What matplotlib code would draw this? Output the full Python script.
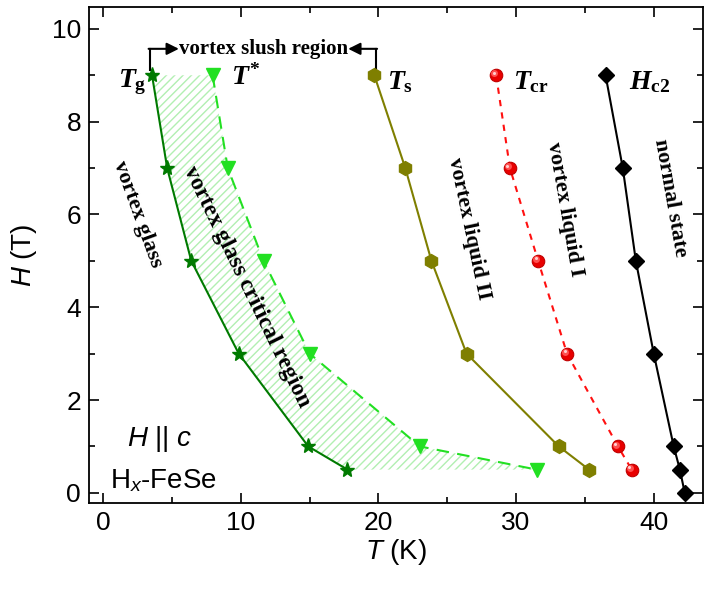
import matplotlib
matplotlib.use('Agg')
import matplotlib.pyplot as plt
from matplotlib.ticker import MultipleLocator
from matplotlib.transforms import offset_copy

# field values (T)
H = [9, 7, 5, 3, 1, 0.5]
H_c2 = [9, 7, 5, 3, 1, 0.5, 0]

# temperatures (K)
T_g = [3.55, 4.65, 6.4, 9.85, 14.9, 17.75]
T_star = [7.95, 9.05, 11.65, 15.0, 23.0, 31.5]
T_s = [19.7, 21.95, 23.85, 26.4, 33.1, 35.3]
T_cr = [28.55, 29.55, 31.6, 33.7, 37.4, 38.4]
T_hc2 = [36.5, 37.75, 38.7, 40.0, 41.45, 41.9, 42.25]

plt.rcParams['mathtext.fontset'] = 'custom'
plt.rcParams['mathtext.rm'] = 'Liberation Serif:bold'
plt.rcParams['mathtext.bf'] = 'Liberation Serif:bold'
plt.rcParams['mathtext.it'] = 'Liberation Serif:bold:italic'
plt.rcParams['mathtext.tt'] = 'Liberation Sans:italic'
plt.rcParams['mathtext.sf'] = 'Liberation Sans'
plt.rcParams['font.family'] = 'Liberation Sans'
plt.rcParams['hatch.linewidth'] = 1.0

fig = plt.figure(figsize=(7.04, 5.89), dpi=100)
ax = fig.add_axes([0.127, 0.146, 0.872, 0.842])

# hatched critical region
ax.fill_betweenx(H, T_g, T_star, facecolor='none', hatch='////',
                 edgecolor='#b2efb2', linewidth=0)

ax.plot(T_g, H, '-', color='#007a00', lw=1.5, marker='*', ms=11, zorder=3)
ax.plot(T_star, H, '--', color='#22e022', lw=1.5, dashes=(6, 4),
        marker='v', ms=10, zorder=3)
ax.plot(T_s, H, '-', color='#7f7f00', lw=1.5, marker='h', ms=10, zorder=3)
ax.plot(T_cr, H, '--', color='#ff1010', lw=1.5, dashes=(3, 3),
        marker='o', ms=9, mfc='#e80000', mec='#c00000', mew=0.8, zorder=3)
# sphere highlight
hl = offset_copy(ax.transData, fig=fig, x=-1.3, y=1.3, units='points')
ax.plot(T_cr, H, 'o', ms=5, mfc='#ff5050', mec='none', transform=hl, zorder=4)
hl2 = offset_copy(ax.transData, fig=fig, x=-1.8, y=1.8, units='points')
ax.plot(T_cr, H, 'o', ms=2.2, mfc='#ffd0d0', mec='none', transform=hl2, zorder=4)
ax.plot(T_hc2, H_c2, '-', color='black', lw=1.5, marker='D', ms=8, zorder=3)

ax.set_xlim(-1, 43.6)
ax.set_ylim(-0.22, 10.47)
ax.xaxis.set_major_locator(MultipleLocator(10))
ax.xaxis.set_minor_locator(MultipleLocator(5))
ax.yaxis.set_major_locator(MultipleLocator(2))
ax.yaxis.set_minor_locator(MultipleLocator(1))
ax.tick_params(which='both', direction='in', top=True, right=True,
               labelsize=19, width=1.2)
ax.tick_params(which='major', length=7, pad=6)
ax.tick_params(which='minor', length=4)
for s in ax.spines.values():
    s.set_linewidth(1.3)

ax.set_xlabel(r'$\mathtt{T}$ (K)', fontsize=20, labelpad=1)
ax.set_ylabel(r'$\mathtt{H}$ (T)', fontsize=20, labelpad=9)

# curve labels
lab = dict(fontsize=20, ha='center', va='center')
ax.text(2.1, 8.85, r'$T_{\rm g}$', **lab)
ax.text(10.4, 8.95, r'$T^{*}$', **lab)
ax.text(21.6, 8.85, r'$T_{\rm s}$', **lab)
ax.text(31.1, 8.85, r'$T_{\rm cr}$', **lab)
ax.text(39.7, 8.85, r'$H_{\rm c2}$', **lab)

# region labels
reg = dict(family='Liberation Serif', weight='bold', fontsize=16,
           ha='center', va='center')
ax.text(2.5, 6.0, 'vortex glass', rotation=-70, **reg)
ax.text(10.4, 4.45, 'vortex glass critical region', rotation=-64,
        **dict(reg, fontsize=17))
ax.text(26.6, 5.7, 'vortex liquid II', rotation=-78, **reg)
ax.text(33.55, 6.1, 'vortex liquid I', rotation=-80, **reg)
ax.text(41.2, 6.35, 'normal state', rotation=-80, **reg)

# vortex slush bracket
ax.plot([3.4, 3.4], [9.12, 9.57], color='black', lw=1.5)
ax.plot([19.8, 19.8], [9.12, 9.57], color='black', lw=1.5)
ax.annotate('', xy=(5.5, 9.57), xytext=(3.3, 9.57),
            arrowprops=dict(arrowstyle='-|>', color='black', lw=1.5,
                            mutation_scale=18, shrinkA=0, shrinkB=0))
ax.annotate('', xy=(17.8, 9.57), xytext=(19.9, 9.57),
            arrowprops=dict(arrowstyle='-|>', color='black', lw=1.5,
                            mutation_scale=18, shrinkA=0, shrinkB=0))
ax.text(11.65, 9.57, 'vortex slush region', family='Liberation Serif',
        weight='bold', fontsize=15, ha='center', va='center')

ax.text(4.1, 1.15, r'$\mathtt{H}$ || $\mathtt{c}$', fontsize=20,
        ha='center', va='center')
ax.text(4.35, 0.27, r'H$_{\mathtt{x}}$-FeSe', fontsize=20,
        ha='center', va='center')

fig.savefig('out.png', dpi=100)
